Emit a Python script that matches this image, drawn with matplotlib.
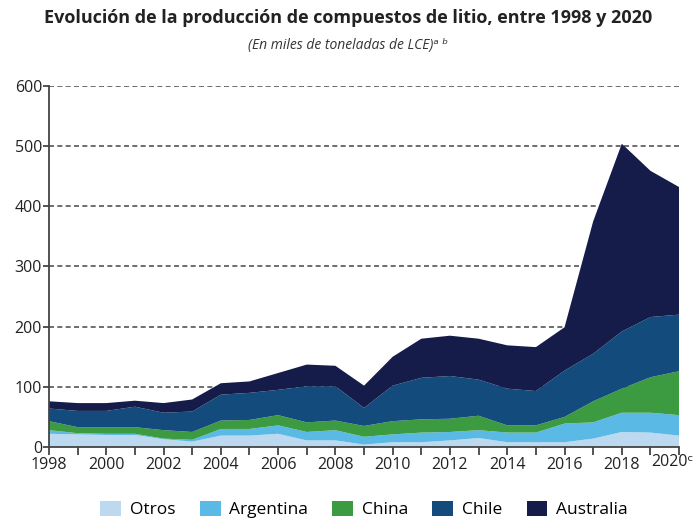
import matplotlib.pyplot as plt
import numpy as np

plt.rcParams['font.family'] = ['Open Sans', 'DejaVu Sans']

years = np.arange(1998, 2021)

top_otros = [22, 21, 20, 20, 13, 9, 19, 19, 22, 11, 11, 4, 8, 8, 11, 15, 8, 8, 8, 14, 25, 24, 19]
top_arg = [28, 23, 22, 22, 14, 12, 30, 30, 36, 25, 28, 17, 21, 24, 25, 28, 24, 24, 39, 41, 57, 57, 53]
top_china = [43, 33, 33, 33, 28, 25, 44, 45, 53, 41, 44, 35, 43, 46, 47, 52, 36, 36, 50, 76, 97, 116, 126]
top_chile = [64, 60, 60, 67, 57, 59, 87, 90, 95, 101, 101, 65, 102, 115, 118, 112, 97, 93, 127, 155, 192, 216, 220]
top_aus = [76, 73, 73, 77, 73, 79, 106, 109, 123, 137, 135, 102, 150, 180, 185, 180, 169, 166, 199, 375, 504, 459, 432]

otros = np.array(top_otros)
argentina = np.array(top_arg) - np.array(top_otros)
china = np.array(top_china) - np.array(top_arg)
chile = np.array(top_chile) - np.array(top_china)
australia = np.array(top_aus) - np.array(top_chile)

labels = ['Otros', 'Argentina', 'China', 'Chile', 'Australia']
colors = ['#bcd9ef', '#5bb9e5', '#3c9a40', '#134b7d', '#151c49']

fig = plt.figure(figsize=(6.97, 5.21), dpi=100)
ax = fig.add_axes([0.0703, 0.142, 0.904, 0.693])

ax.stackplot(years, otros, argentina, china, chile, australia,
             labels=labels, colors=colors, linewidth=0)

ax.set_xlim(1998, 2020)
ax.set_ylim(0, 600)
ax.set_yticks(range(0, 601, 100))
ax.set_xticks(range(1998, 2021))
xlab = [str(y) if (y % 2 == 0 and y < 2020) else '' for y in years]
ax.set_xticklabels(xlab)
# last label placed by hand, pulled in a little so the superscript fits
ax.annotate('2020ᶜ', xy=(years[-1], 0), xycoords=('data', 'axes fraction'),
            xytext=(-5, -5.3), textcoords='offset points', ha='center', va='top',
            fontsize=11.5, color='#222222', annotation_clip=False)
for yv in range(100, 601, 100):
    ax.axhline(yv, color='#555555', linestyle=(0, (3, 2)), linewidth=1.2, zorder=0.5)

for s in ['top', 'right']:
    ax.spines[s].set_visible(False)
ax.spines['left'].set_color('#444444')
ax.spines['bottom'].set_color('#444444')
ax.spines['left'].set_linewidth(1.3)
ax.spines['bottom'].set_linewidth(1.3)
ax.tick_params(axis='both', colors='#444444', labelcolor='#222222', labelsize=11.5, width=1.3)
ax.tick_params(axis='x', length=6, pad=1)
ax.tick_params(axis='y', length=4, pad=1)

fig.text(0.5, 0.965, 'Evolución de la producción de compuestos de litio, entre 1998 y 2020',
         ha='center', va='center', fontsize=13, fontweight='bold', color='#222222')
fig.text(0.5, 0.913, '(En miles de toneladas de LCE)ᵃ ᵇ', ha='center', va='center',
         fontsize=10, fontstyle='italic', color='#333333')

ax.legend(loc='upper center', bbox_to_anchor=(0.5, -0.105), ncol=5, frameon=False,
          fontsize=12.5, handlelength=1.2, handleheight=1.0, columnspacing=1.4, handletextpad=0.5)

fig.savefig('out.png', dpi=100)
